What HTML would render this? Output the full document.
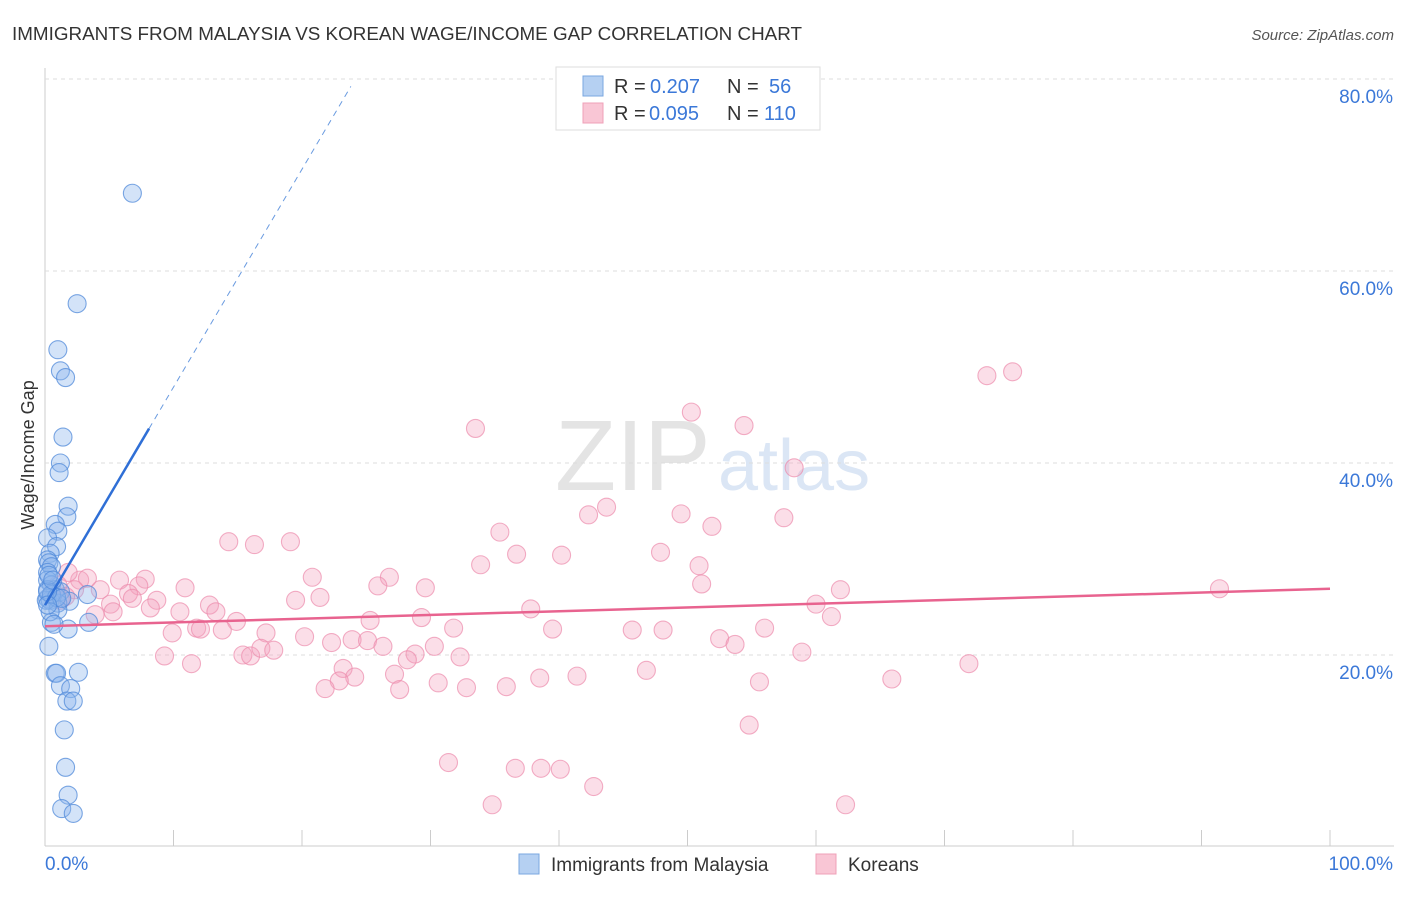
<!DOCTYPE html>
<html><head><meta charset="utf-8"><style>
body{margin:0;background:#fff;font-family:"Liberation Sans",sans-serif;}
svg text{font-family:"Liberation Sans",sans-serif;}
</style></head><body>
<svg id="chart" width="1406" height="892">
<text x="12" y="40" font-size="18" fill="#333" textLength="790" lengthAdjust="spacingAndGlyphs">IMMIGRANTS FROM MALAYSIA VS KOREAN WAGE/INCOME GAP CORRELATION CHART</text>
<text x="1394" y="40" font-size="15" fill="#555" font-style="italic" text-anchor="end">Source: ZipAtlas.com</text>
<text x="555" y="490" font-size="100" fill="#e4e4e4" font-family="Liberation Serif">ZIP</text>
<text x="718" y="490" font-size="72" fill="#dbe6f5">atlas</text>
<text transform="translate(34,455) rotate(-90)" font-size="18" fill="#333" text-anchor="middle">Wage/Income Gap</text>
<g id="grid"></g><g id="pts"></g><g id="trend"></g>
<g>
<rect x="556" y="67" width="264" height="63" fill="#fff" stroke="#ddd"/>
<rect x="583" y="76" width="20" height="20" fill="#b5d0f2" stroke="#7aa7e0"/>
<rect x="583" y="103" width="20" height="20" fill="#f9c6d5" stroke="#efa0b8"/>
<text x="614" y="93" font-size="20" fill="#333">R =</text>
<text x="650" y="93" font-size="20" fill="#3b78d8">0.207</text>
<text x="727" y="93" font-size="20" fill="#333">N =</text>
<text x="769" y="93" font-size="20" fill="#3b78d8">56</text>
<text x="614" y="120" font-size="20" fill="#333">R =</text>
<text x="649" y="120" font-size="20" fill="#3b78d8">0.095</text>
<text x="727" y="120" font-size="20" fill="#333">N =</text>
<text x="764" y="120" font-size="20" fill="#3b78d8">110</text>
</g>
<g>
<rect x="519" y="854" width="20" height="20" fill="#b5d0f2" stroke="#7aa7e0"/>
<text x="551" y="871" font-size="19" fill="#333">Immigrants from Malaysia</text>
<rect x="816" y="854" width="20" height="20" fill="#f9c6d5" stroke="#efa0b8"/>
<text x="848" y="871" font-size="19" fill="#333">Koreans</text>
</g>
</svg>
<script>
const yTicks=[20,40,60,80];
const yTickLabels=["20.0%","40.0%","60.0%","80.0%"];
const xTickLabels=["0.0%","100.0%"];
const blueX=[6.8,2.5,1.0,1.2,1.6,1.4,1.2,1.1,1.8,1.7,0.8,1.0,0.2,0.9,0.4,0.2,0.3,0.5,0.2,0.2,0.5,0.8,1.2,0.2,0.4,1.9,1.0,3.3,3.4,1.0,0.5,1.8,0.3,0.8,0.9,2.6,1.2,2.0,1.7,2.2,1.5,1.6,1.8,1.3,2.2,0.1,0.2,0.5,0.9,1.3,0.4,0.7,0.2,0.3,0.6,0.2];
const blueY=[68.1,56.6,51.8,49.6,48.9,42.7,40.0,39.0,35.5,34.4,33.6,32.9,32.2,31.3,30.6,29.9,29.6,29.2,28.6,27.8,27.3,26.8,26.6,25.9,25.7,25.6,25.4,26.3,23.4,24.7,23.4,22.7,20.9,18.1,18.1,18.2,16.8,16.5,15.2,15.2,12.2,8.3,5.4,4.0,3.5,25.7,26.8,26.3,26.0,25.9,24.5,23.2,26.6,28.3,27.8,25.2];
const pinkX=[75.3,73.3,50.3,33.5,54.4,58.3,43.7,42.3,49.5,57.5,35.4,51.9,14.3,16.3,19.1,36.7,40.2,47.9,33.9,50.9,20.8,26.8,25.9,29.6,51.1,61.9,91.4,10.9,7.8,5.8,4.3,2.7,1.8,3.3,7.3,6.5,8.7,6.8,5.1,5.3,8.2,10.5,12.8,13.3,21.4,19.5,37.8,60.0,61.2,14.9,25.3,29.3,11.8,12.1,13.8,9.9,17.2,31.8,39.5,45.7,48.1,56.0,20.2,23.9,25.1,22.3,26.3,30.3,52.5,53.7,15.4,16.0,16.8,17.8,9.3,11.4,28.8,28.2,32.3,58.9,71.9,23.2,27.2,24.1,38.5,41.4,46.8,22.9,21.8,27.6,30.6,32.8,35.9,55.6,65.9,54.8,31.4,36.6,38.6,40.1,42.7,34.8,62.3,3.9,1.2,2.3,1.0,1.6,0.5];
const pinkY=[49.5,49.1,45.3,43.6,43.9,39.5,35.4,34.6,34.7,34.3,32.8,33.4,31.8,31.5,31.8,30.5,30.4,30.7,29.4,29.3,28.1,28.1,27.2,27.0,27.4,26.8,26.9,27.0,27.9,27.8,26.8,27.8,28.6,28.0,27.2,26.4,25.7,25.9,25.3,24.5,24.9,24.5,25.2,24.5,26.0,25.7,24.8,25.3,24.0,23.5,23.6,23.9,22.8,22.7,22.6,22.3,22.3,22.8,22.7,22.6,22.6,22.8,21.9,21.6,21.5,21.3,20.9,20.9,21.7,21.1,20.0,19.9,20.7,20.5,19.9,19.1,20.1,19.5,19.8,20.3,19.1,18.6,18.0,17.7,17.6,17.8,18.4,17.3,16.5,16.4,17.1,16.6,16.7,17.2,17.5,12.7,8.8,8.2,8.2,8.1,6.3,4.4,4.4,24.2,25.7,26.8,27.3,26.1,26.3];
const blueTrend=[25.2,2.27];
const pinkTrend=[23.0,0.039];
const X=v=>45+v*12.85, Y=v=>847-v*9.6;
const NS="http://www.w3.org/2000/svg";
function mk(t,a,p){const e=document.createElementNS(NS,t);for(const k in a)e.setAttribute(k,a[k]);p.appendChild(e);return e;}
const grid=document.getElementById('grid');
mk('line',{x1:45,y1:68,x2:45,y2:846,stroke:'#ccc'},grid);
mk('line',{x1:45,y1:846,x2:1394,y2:846,stroke:'#ccc'},grid);
for(let i=1;i<=10;i++){mk('line',{x1:X(i*10),y1:830,x2:X(i*10),y2:846,stroke:'#ccc'},grid);}
yTicks.forEach((t,i)=>{
 const l=mk('line',{x1:45,y1:Y(t),x2:1394,y2:Y(t),stroke:'#ddd','stroke-dasharray':'4,4'},grid);
 
 
 const tx=mk('text',{x:1393,y:Y(t)+24,'font-size':19,fill:'#3b78d8','text-anchor':'end'},grid);tx.textContent=yTickLabels[i];
 
 
});
const x0=mk('text',{x:45,y:870,'font-size':19,fill:'#3b78d8'},grid);x0.textContent=xTickLabels[0];


const x1=mk('text',{x:1393,y:870,'font-size':19,fill:'#3b78d8','text-anchor':'end'},grid);x1.textContent=xTickLabels[1];


const pts=document.getElementById('pts');
pinkX.forEach((v,i)=>{const c=mk('circle',{cx:X(v),cy:Y(pinkY[i]),r:9,fill:'rgba(244,160,188,0.35)',stroke:'rgba(236,140,172,0.7)','stroke-width':1.1},pts);
 
 });
blueX.forEach((v,i)=>{const c=mk('circle',{cx:X(v),cy:Y(blueY[i]),r:9,fill:'rgba(140,182,236,0.38)',stroke:'rgba(80,138,218,0.75)','stroke-width':1.1},pts);
 
 });
const tr=document.getElementById('trend');
const bEnd=8.1, bDash=23.8;
const b1=mk('line',{x1:X(0),y1:Y(blueTrend[0]),x2:X(bEnd),y2:Y(blueTrend[0]+blueTrend[1]*bEnd),stroke:'#2f6fd6','stroke-width':2.5},tr);


const b2=mk('line',{x1:X(bEnd),y1:Y(blueTrend[0]+blueTrend[1]*bEnd),x2:X(bDash),y2:Y(blueTrend[0]+blueTrend[1]*bDash),stroke:'#6a9be0','stroke-width':1,'stroke-dasharray':'6,5'},tr);


const p1=mk('line',{x1:X(0),y1:Y(pinkTrend[0]),x2:X(100),y2:Y(pinkTrend[0]+pinkTrend[1]*100),stroke:'#e8638f','stroke-width':2.5},tr);


</script>
</body></html>
